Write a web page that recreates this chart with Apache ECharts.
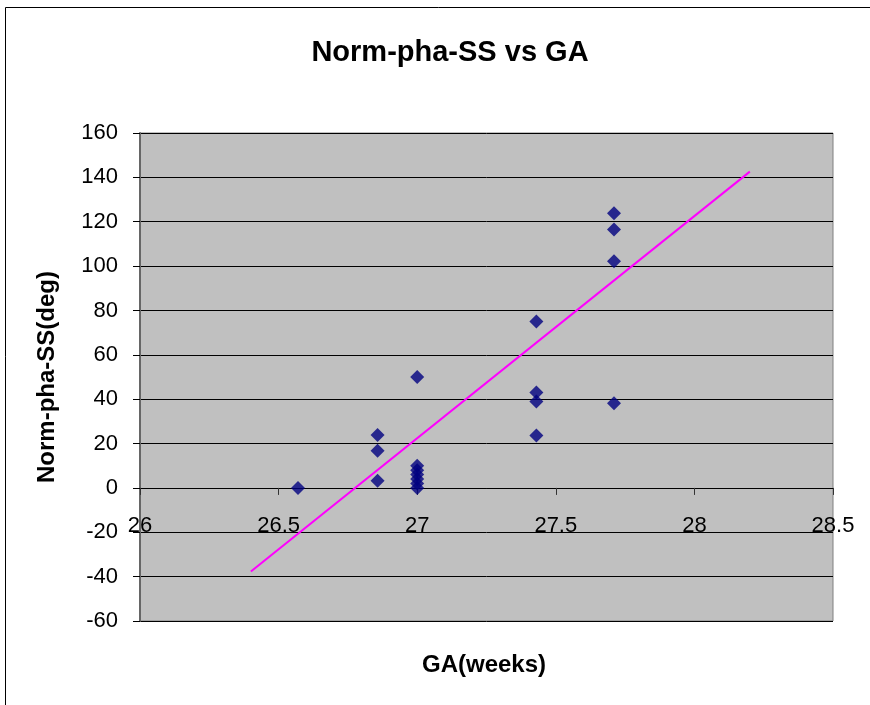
<!DOCTYPE html>
<html>
<head>
<meta charset="utf-8">
<script src="https://cdn.jsdelivr.net/npm/echarts@6/dist/echarts.min.js"></script>
<style>
  html, body { margin: 0; padding: 0; background: #fff; }
  #chart { width: 870px; height: 705px; }
</style>
</head>
<body>
<div id="chart"></div>
<script>
// Gestational age (weeks) and normalised phase (deg) for each measurement
const gaWeeks = [26.57, 26.857, 26.857, 26.857, 27, 27, 27, 27, 27, 27, 27,
                 27.43, 27.43, 27.43, 27.43, 27.71, 27.71, 27.71, 27.71];
const normPhaSS = [0, 23.9, 16.7, 3.2, 0, 2, 4, 6, 8, 10, 50,
                   75, 43, 38.9, 23.6, 123.8, 116.5, 102.2, 38.2];

// Linear trendline, drawn between its two end values
const trendX = [26.4, 28.2];
const trendY = [-37.7, 142.6];

// Axis ranges and steps
const xRange = [26, 28.5], xStep = 0.5;
const yRange = [-60, 160], yStep = 20;

const titleText = 'Norm-pha-SS vs GA';
const xTitle = 'GA(weeks)';
const yTitle = 'Norm-pha-SS(deg)';

const points = gaWeeks.map((x, i) => [x, normPhaSS[i]]);
const trend = trendX.map((x, i) => [x, trendY[i]]);

const chart = echarts.init(document.getElementById('chart'), null, { renderer: 'canvas' });
const font = 'Arial, "Liberation Sans", sans-serif';

chart.setOption({
  animation: false,
  backgroundColor: '#fff',
  graphic: [
    {
      type: 'rect', z: -10, silent: true,
      shape: { x: 5.5, y: 7.5, width: 900, height: 720 },
      style: { fill: 'none', stroke: '#000', lineWidth: 1 }
    },
    {
      type: 'text', silent: true, x: 484, y: 665,
      style: {
        text: xTitle, fill: '#000', align: 'center', verticalAlign: 'middle',
        font: 'bold 24px ' + font
      }
    }
  ],
  title: {
    text: titleText,
    left: 445, top: 33, textAlign: 'center',
    textStyle: { fontFamily: font, fontSize: 29, fontWeight: 'bold', color: '#000' }
  },
  grid: {
    left: 140, top: 133, right: 37, bottom: 84,
    show: true, backgroundColor: '#C0C0C0', borderColor: '#808080', borderWidth: 1
  },
  xAxis: {
    type: 'value', min: xRange[0], max: xRange[1], interval: xStep,
    axisLine: { show: true, onZero: true, lineStyle: { color: '#000', width: 1 } },
    axisTick: { show: true, inside: false, length: 7, lineStyle: { color: '#333' } },
    axisLabel: { fontFamily: font, fontSize: 22, color: '#000', margin: -106,
                 formatter: v => String(v) },
    splitLine: { show: false }
  },
  yAxis: {
    type: 'value', min: yRange[0], max: yRange[1], interval: yStep,
    name: yTitle, nameLocation: 'middle', nameGap: 81, nameRotate: 90,
    nameTextStyle: { fontFamily: font, fontSize: 24, fontWeight: 'bold', color: '#000' },
    axisLine: { show: true, onZero: false, lineStyle: { color: '#666', width: 2 } },
    axisTick: { show: true, inside: false, length: 7, lineStyle: { color: '#000' } },
    axisLabel: { fontFamily: font, fontSize: 22, color: '#000', margin: 22 },
    splitLine: { show: true, lineStyle: { color: '#000', width: 1 } }
  },
  series: [
    {
      type: 'line', data: trend, showSymbol: false, symbol: 'none',
      lineStyle: { color: '#FF00FF', width: 2 }, z: 3
    },
    {
      type: 'scatter', data: points, symbol: 'diamond', symbolSize: [14, 14],
      itemStyle: { color: '#000080' }, z: 4
    }
  ]
});
</script>
</body>
</html>
